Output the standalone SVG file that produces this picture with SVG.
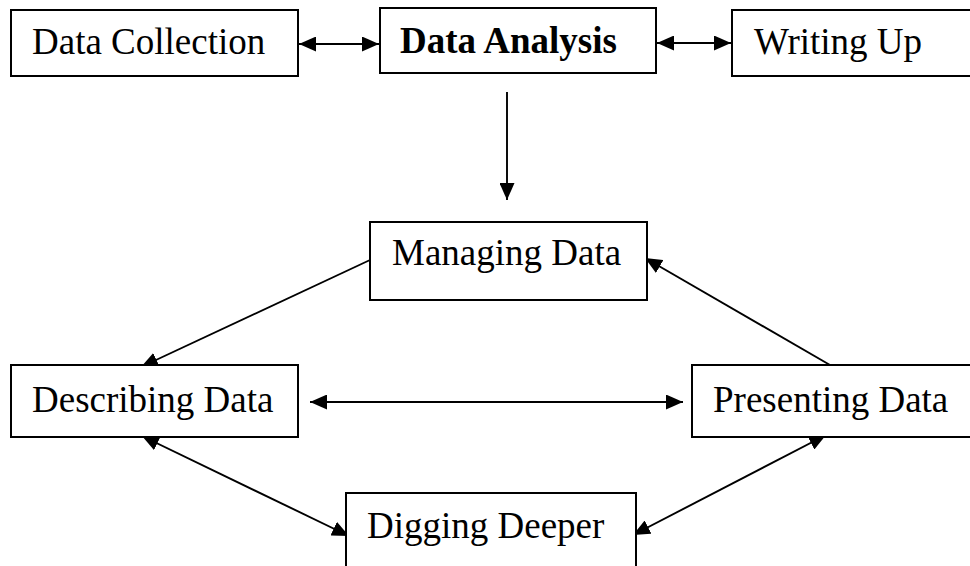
<svg xmlns="http://www.w3.org/2000/svg" width="970" height="566" viewBox="0 0 970 566">
<style>
.box{fill:#fff;stroke:#000;stroke-width:2}
.lbl{font-family:"Liberation Serif","Times New Roman",serif;font-size:37px;fill:#000}
.bold{font-weight:bold}
.cn{stroke:#000;stroke-width:1.9;fill:none}
</style>
<defs>
<marker id="ah" viewBox="0 0 17 15" refX="17" refY="7.5" markerWidth="17" markerHeight="15" markerUnits="userSpaceOnUse" orient="auto-start-reverse">
<path d="M0,0 L17,7.5 L0,15 Z" fill="#000"/>
</marker>
</defs>
<rect width="970" height="566" fill="#fff"/>
<g id="connectors">
<line class="cn" x1="299" y1="44" x2="379" y2="44" marker-start="url(#ah)" marker-end="url(#ah)"/>
<line class="cn" x1="657" y1="43" x2="731" y2="43" marker-start="url(#ah)" marker-end="url(#ah)"/>
<line class="cn" x1="507" y1="92" x2="507" y2="200" marker-end="url(#ah)"/>
<line class="cn" x1="370" y1="260" x2="141" y2="367" marker-end="url(#ah)"/>
<line class="cn" x1="830" y1="365" x2="645" y2="258" marker-end="url(#ah)"/>
<line class="cn" x1="310" y1="402" x2="683" y2="402" marker-start="url(#ah)" marker-end="url(#ah)"/>
<line class="cn" x1="142" y1="436" x2="349" y2="536" marker-start="url(#ah)" marker-end="url(#ah)"/>
<line class="cn" x1="826" y1="435" x2="633" y2="535" marker-start="url(#ah)" marker-end="url(#ah)"/>
</g>
<g id="data-collection">
<rect class="box" x="11" y="10" width="287" height="66"/>
<text class="lbl" x="32" y="54">Data Collection</text>
</g>
<g id="data-analysis">
<rect class="box" x="380" y="8" width="276" height="65"/>
<text class="lbl bold" x="400" y="53">Data Analysis</text>
</g>
<g id="writing-up">
<rect class="box" x="732" y="10" width="245" height="66"/>
<text class="lbl" x="754" y="54">Writing Up</text>
</g>
<g id="managing-data">
<rect class="box" x="370" y="222" width="277" height="78"/>
<text class="lbl" x="392" y="265">Managing Data</text>
</g>
<g id="describing-data">
<rect class="box" x="11" y="365" width="287" height="72"/>
<text class="lbl" x="32" y="412">Describing Data</text>
</g>
<g id="presenting-data">
<rect class="box" x="692" y="365" width="290" height="72"/>
<text class="lbl" x="713" y="412">Presenting Data</text>
</g>
<g id="digging-deeper">
<rect class="box" x="346" y="493" width="290" height="90"/>
<text class="lbl" x="367" y="538">Digging Deeper</text>
</g>
</svg>
